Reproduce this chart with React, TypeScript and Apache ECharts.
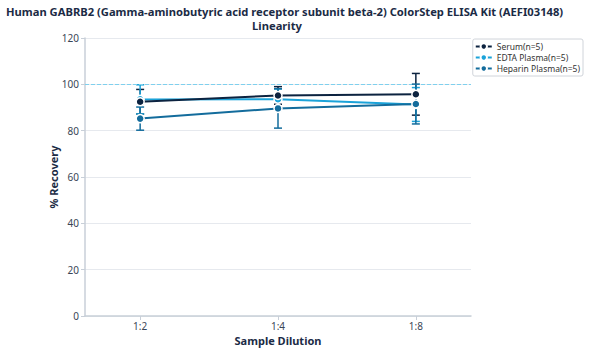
import React, { useEffect, useRef } from "react";
import * as echarts from "echarts";

const categories = ["1:2", "1:4", "1:8"];
const seriesNames = ["Serum(n=5)", "EDTA Plasma(n=5)", "Heparin Plasma(n=5)"];
const serumMean = [92.5, 95.2, 95.7];
const serumSd = [5.3, 3.8, 9.0];
const edtaMean = [93.5, 93.6, 91.3];
const edtaSd = [6.3, 4.4, 7.3];
const heparinMean = [85.2, 89.6, 91.5];
const heparinSd = [5.0, 8.5, 8.6];
const colors = ["#0c2340", "#1ba3d9", "#136c9c"];
const titleLine1 = "Human GABRB2 (Gamma-aminobutyric acid receptor subunit beta-2) ColorStep ELISA Kit (AEFI03148)";
const titleLine2 = "Linearity";

const FONT = "Noto Sans";

export default function App() {
  const ref = useRef<HTMLDivElement>(null);
  useEffect(() => {
    if (!ref.current) return;
    const chart = echarts.init(ref.current, null, { renderer: "svg" });
    const means = [serumMean, edtaMean, heparinMean];
    const sds = [serumSd, edtaSd, heparinSd];
    const idx = categories.map((_, i) => i);

    const errSeries = means.map((m, s) => ({
      type: "custom",
      name: "err" + s,
      z: 3 + s,
      silent: true,
      data: idx.map((i) => [i, m[i] - sds[s][i], m[i] + sds[s][i]]),
      renderItem: (params: any, api: any) => {
        const x = api.value(0);
        const lo = api.coord([x, api.value(1)]);
        const hi = api.coord([x, api.value(2)]);
        const w = 4;
        const st = { stroke: colors[s], lineWidth: 1.5 };
        return {
          type: "group",
          children: [
            { type: "line", shape: { x1: lo[0], y1: lo[1], x2: hi[0], y2: hi[1] }, style: st },
            { type: "line", shape: { x1: lo[0] - w, y1: lo[1], x2: lo[0] + w, y2: lo[1] }, style: st },
            { type: "line", shape: { x1: hi[0] - w, y1: hi[1], x2: hi[0] + w, y2: hi[1] }, style: st },
          ],
        };
      },
    }));

    const lineSeries = means.map((m, s) => ({
      type: "line",
      name: seriesNames[s],
      z: 10 + (s === 0 ? 5 : s),
      data: idx.map((i) => [i, m[i]]),
      symbol: "circle",
      symbolSize: 8,
      lineStyle: { color: colors[s], width: 2 },
      itemStyle: { color: colors[s], borderColor: "#ffffff", borderWidth: 1.5 },
      ...(s === 0
        ? {
            markLine: {
              silent: true,
              symbol: "none",
              label: { show: false },
              lineStyle: { color: "#7fd0ee", type: "dashed", width: 1 },
              data: [{ yAxis: 100 }],
            },
          }
        : {}),
    }));

    const titleStyle = { fontFamily: FONT, fontSize: 11.2, fontWeight: "bold", color: "#1b2b45", lineHeight: 12 };

    chart.setOption({
      animation: false,
      textStyle: { fontFamily: FONT },
      title: [
        { text: titleLine1, left: 6, top: 5, padding: 0, textStyle: titleStyle },
        { text: titleLine2, left: 277, textAlign: "center", top: 19, padding: 0, textStyle: titleStyle },
      ],
      legend: {
        orient: "vertical",
        right: 7,
        top: 39,
        data: seriesNames,
        borderColor: "#d0d4da",
        borderWidth: 1,
        borderRadius: 2,
        padding: [3, 3, 3, 2],
        itemGap: 2,
        itemWidth: 16,
        itemHeight: 8,
        textStyle: { fontFamily: FONT, fontSize: 8.5, color: "#333" },
      },
      grid: { left: 85, right: 119, top: 38, bottom: 35, containLabel: false },
      xAxis: {
        type: "value",
        min: -0.4,
        max: 2.4,
        name: "Sample Dilution",
        nameLocation: "middle",
        nameGap: 18,
        nameMoveOverlap: false,
        nameTextStyle: { fontFamily: FONT, fontSize: 11, fontWeight: "bold", color: "#1b2b45", lineHeight: 13 },
        axisLine: { onZero: false, lineStyle: { color: "#c8cfd8", width: 1.5 } },
        axisTick: { show: true, customValues: idx, length: 4, lineStyle: { color: "#c8cfd8" } },
        axisLabel: {
          customValues: idx,
          formatter: (v: number) => categories[Math.round(v)] ?? "",
          fontSize: 10,
          lineHeight: 12,
          color: "#3a4656",
          margin: 4,
        },
        splitLine: { show: false },
      },
      yAxis: {
        type: "value",
        min: 0,
        max: 120,
        interval: 20,
        name: "% Recovery",
        nameLocation: "middle",
        nameGap: 26,
        nameMoveOverlap: false,
        nameTextStyle: { fontFamily: FONT, fontSize: 11, fontWeight: "bold", color: "#1b2b45" },
        axisLine: { show: true, onZero: false, lineStyle: { color: "#c8cfd8", width: 1.5 } },
        axisTick: { show: true, length: 4, lineStyle: { color: "#c8cfd8" } },
        axisLabel: { fontSize: 10, color: "#3a4656", margin: 6, formatter: (v: number) => String(v) },
        splitLine: { show: true, lineStyle: { color: "#e6e9ee", width: 1 } },
      },
      series: [...errSeries, ...lineSeries],
    });
    return () => chart.dispose();
  }, []);
  return <div ref={ref} style={{ position: "absolute", left: 0, top: 0, width: 590, height: 352 }} />;
}
